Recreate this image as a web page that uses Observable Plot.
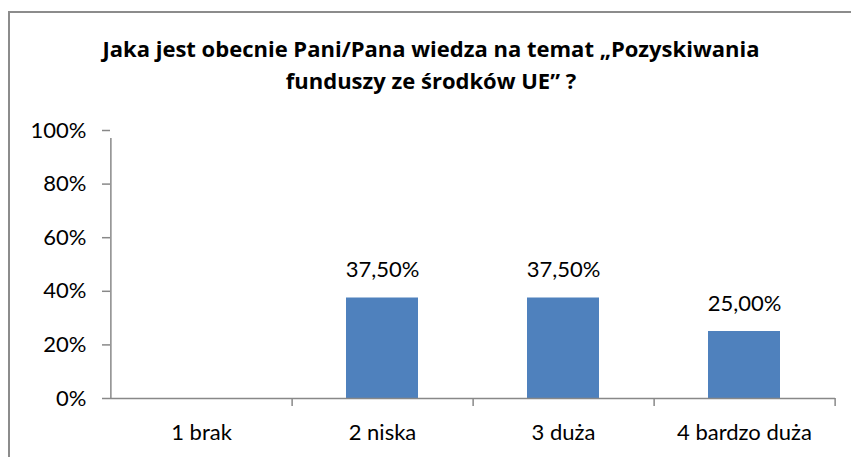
<!DOCTYPE html>
<html><head><meta charset="utf-8">
<script src="https://cdn.jsdelivr.net/npm/d3@7"></script>
<script src="https://cdn.jsdelivr.net/npm/@observablehq/plot@0.6"></script>
<style>
body{margin:0;width:851px;height:457px;overflow:hidden;background:#fff;position:relative;font-family:"Open Sans",sans-serif;}
#frame{position:absolute;left:8px;top:11px;width:900px;height:500px;border:2px solid #8c8c8c;box-sizing:border-box;}
#title{position:absolute;left:0;width:862px;top:32px;text-align:center;font-weight:bold;font-size:22px;line-height:32px;color:#000;}
#chart{position:absolute;left:0;top:0;}
</style></head><body>
<div id="frame"></div>
<div id="chart"></div>
<div id="title">Jaka jest obecnie Pani/Pana wiedza na temat „Pozyskiwania<br>funduszy ze środków UE” ?</div>
<script>
const categories = ["1 brak", "2 niska", "3 duża", "4 bardzo duża"];
const values = [0, 0.375, 0.375, 0.25];
const yTicks = [0, 0.2, 0.4, 0.6, 0.8, 1];

const data = categories.map((c, i) => ({cat: c, value: values[i]}));
const W = 851, H = 457, ML = 110, MR = 16, MT = 130, MB = 59;
const step = (W - ML - MR) / categories.length;
const grey = "#888888";
const pl = d3.formatLocale({decimal: ",", thousands: " ", grouping: [3], currency: ["", " zł"], percent: "%"});
const fmtLabel = pl.format(".2%");
const fmtTick = pl.format(".0%");

const chart = Plot.plot({
  width: W, height: H,
  marginLeft: ML, marginRight: MR, marginTop: MT, marginBottom: MB,
  style: {fontFamily: "Lato, 'Open Sans', sans-serif", fontSize: "22px", color: "#000", background: "transparent"},
  x: {type: "band", domain: categories, paddingInner: 0.6, paddingOuter: 0.3, label: null},
  y: {domain: [0, 1], label: null},
  marks: [
    Plot.barY(data, {x: "cat", y: "value", fill: "#4F81BD"}),
    Plot.ruleY([0], {stroke: grey, strokeWidth: 1.5}),
    Plot.ruleX([categories[0]], {y1: 0, y2: 1, dx: -step / 2, insetBottom: -8, stroke: grey, strokeWidth: 1.5}),
    Plot.ruleX(categories, {y1: 0, y2: 0, dx: step / 2, insetBottom: -8, stroke: grey, strokeWidth: 1.5}),
    Plot.axisY({ticks: yTicks, tickSize: 8, tickPadding: 16, tickFormat: fmtTick, stroke: grey, strokeWidth: 1.5, fill: "#000"}),
    Plot.axisX({tickSize: 0, tickPadding: 26, fill: "#000"}),
    Plot.text(data.filter(d => d.value > 0), {x: "cat", y: "value", text: d => fmtLabel(d.value), dy: -28, fill: "#000"})
  ]
});
document.getElementById("chart").appendChild(chart);
</script>
</body></html>
